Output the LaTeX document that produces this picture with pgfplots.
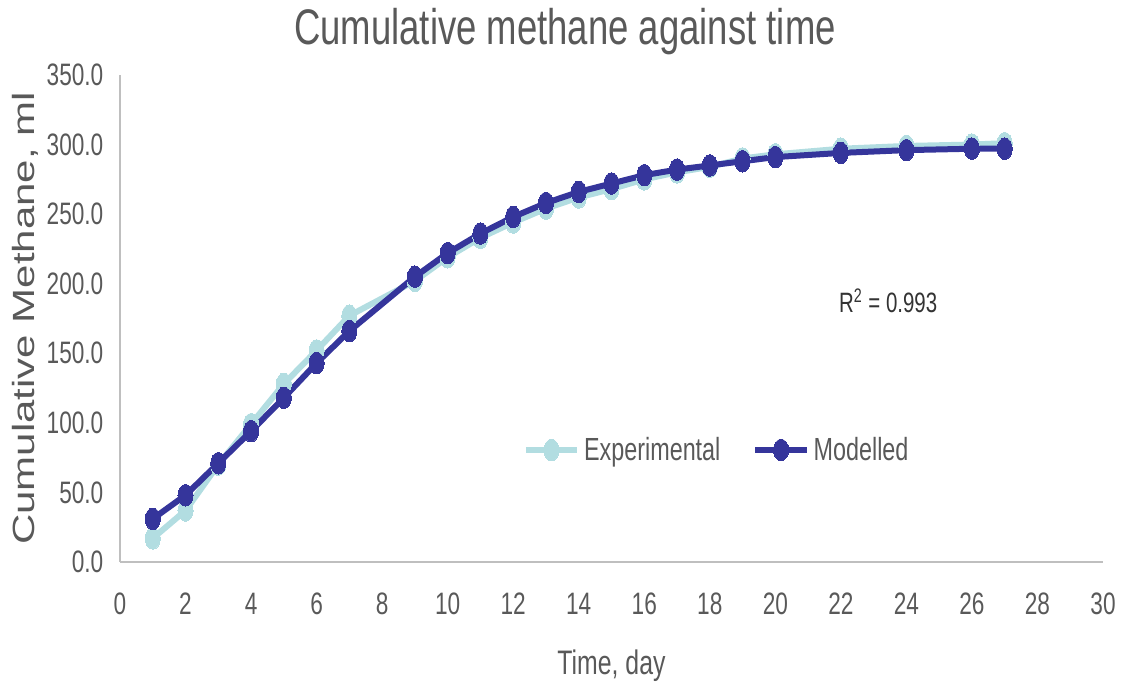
\documentclass[border=0pt]{standalone}
\usepackage{fontspec}
\usepackage{graphicx}
\usepackage{pgfplots}
\pgfplotsset{compat=1.18}
\setmainfont{Liberation Sans}[FakeStretch=0.73]
\newfontfamily\plainfont{Liberation Sans}

\definecolor{txtgray}{HTML}{595959}
\definecolor{axgray}{HTML}{BFBFBF}
\definecolor{expcol}{HTML}{B2DDE1}
\definecolor{modcol}{HTML}{35359B}

\begin{document}
\begin{tikzpicture}
\path[use as bounding box] (0,0) rectangle (562pt,347pt);
\begin{axis}[
  at={(60pt,66pt)}, anchor=south west,
  scale only axis, width=491.5pt, height=243.5pt,
  xmin=0, xmax=30, ymin=0, ymax=350,
  xtick={0,2,...,30}, ytick={0,50,...,350},
  axis x line*=bottom, axis y line*=left,
  axis line style={axgray, line width=1.2pt, -},
  major tick length=0pt,
  clip=false,
  /pgf/number format/assume math mode=true,
  yticklabel={\pgfmathprintnumber[fixed,fixed zerofill,precision=1]{\tick}},
  ticklabel style={font=\fontsize{15.5}{18}\selectfont, text=txtgray},
  xticklabel style={yshift=-12pt},
  yticklabel style={xshift=-4.8pt},
  title={Cumulative methane against time},
  title style={at={(0.4527,1.037)}, anchor=base, font=\fontsize{25}{30}\selectfont, text=txtgray},
  xlabel={Time, day},
  xlabel style={at={(0.5,-0.232)}, anchor=base, font=\fontsize{17}{20}\selectfont, text=txtgray},
  ylabel={\scalebox{1}[0.73]{\plainfont Cumulative Methane, ml}},
  ylabel style={at={(-0.0966,0.5)}, anchor=center, font=\fontsize{21}{25}\selectfont, text=txtgray},
  legend columns=2,
  legend style={at={(0.608,0.23)}, anchor=center, draw=none, fill=none,
    font=\fontsize{16}{19}\selectfont, text=txtgray,
    /tikz/every even column/.append style={column sep=14pt}},
  legend image code/.code={
    \draw[mark repeat=2,mark phase=2] plot coordinates {(0cm,0cm) (0.45cm,0cm) (0.9cm,0cm)};
  },
]
% measured cumulative methane
\addplot[color=expcol, line width=3pt, mark=*, mark size=5.4pt,
  mark options={xscale=0.7, fill=expcol, draw=expcol, line width=0pt}]
  coordinates {
  (1,17) (2,37) (3,70) (4,99) (5,128) (6,152) (7,177) (9,202)
  (10,219) (11,233) (12,244) (13,254) (14,262) (15,268) (16,275)
  (17,280) (18,284) (19,290) (20,293) (22,297) (24,299) (26,300) (27,301)
  };
\addlegendentry{Experimental}
% fitted model
\addplot[color=modcol, line width=3pt, mark=*, mark size=5.4pt,
  mark options={xscale=0.7, fill=modcol, draw=modcol, line width=0pt}]
  coordinates {
  (1,31) (2,48) (3,71) (4,94) (5,118) (6,143) (7,166) (9,205)
  (10,222) (11,236) (12,248) (13,258) (14,266) (15,272) (16,278)
  (17,282) (18,285) (19,288) (20,291) (22,294) (24,296) (26,297) (27,297)
  };
\addlegendentry{Modelled}
\node[anchor=base west, font=\fontsize{14}{17}\selectfont, text=black!80]
  at (axis cs:21.73,179) {R\textsuperscript{2} = 0.993};
\end{axis}
\end{tikzpicture}
\end{document}
